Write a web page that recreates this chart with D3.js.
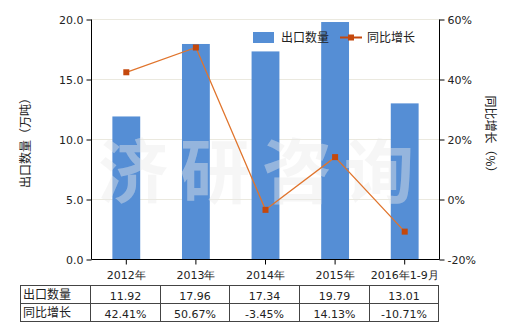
<!DOCTYPE html>
<html>
<head>
<meta charset="utf-8">
<script src="https://cdn.jsdelivr.net/npm/d3@7"></script>
<style>
  body { margin: 0; background: #fff; }
  text { font-family: "Noto Sans CJK SC", "DejaVu Sans", sans-serif; }
</style>
</head>
<body>
<svg id="chart" width="520" height="330"></svg>
<script>
const categories = ['2012年', '2013年', '2014年', '2015年', '2016年1-9月']
const exportQty = [11.92, 17.96, 17.34, 19.79, 13.01]
const growth = [42.41, 50.67, -3.45, 14.13, -10.71]
const leftTicks = [0, 5, 10, 15, 20]
const rightTicks = [-20, 0, 20, 40, 60]

const svg = d3.select('#chart')
const plotLeft = 91.5, plotRight = 439.5, plotTop = 19.5, plotBottom = 259.5

const x = d3.scaleBand().domain(categories).range([plotLeft, plotRight])
  .paddingInner(0.6).paddingOuter(0.3)
const y = d3.scaleLinear().domain([0, 20]).range([plotBottom, plotTop])
const y2 = d3.scaleLinear().domain([-20, 60]).range([plotBottom, plotTop])

// grid
svg.append('g')
  .selectAll('line')
  .data(leftTicks.slice(1))
  .enter()
  .append('line')
    .attr('x1', plotLeft).attr('x2', plotRight)
    .attr('y1', d => y(d)).attr('y2', d => y(d))
    .attr('stroke', '#ebe9df')

// bars
svg.append('g')
  .selectAll('rect')
  .data(exportQty)
  .enter()
  .append('rect')
    .attr('x', (d, i) => x(categories[i]))
    .attr('width', x.bandwidth())
    .attr('y', d => y(d))
    .attr('height', d => plotBottom - y(d))
    .attr('fill', '#558ed5')

// watermark
svg.append('text')
  .text('济研咨询')
  .attr('x', 262).attr('y', 198)
  .attr('text-anchor', 'middle')
  .attr('font-size', 70)
  .attr('font-weight', 'bold')
  .attr('letter-spacing', 12)
  .attr('fill', '#ffffff')
  .attr('opacity', 0.3)
svg.append('text')
  .text('济研咨询')
  .attr('x', 262).attr('y', 198)
  .attr('text-anchor', 'middle')
  .attr('font-size', 70)
  .attr('font-weight', 'bold')
  .attr('letter-spacing', 12)
  .attr('fill', '#d0d0d0')
  .attr('opacity', 0.18)

// axes
const axisLeft = d3.axisLeft(y).tickValues(leftTicks).tickFormat(d3.format('.1f')).tickSize(5)
const axisRight = d3.axisRight(y2).tickValues(rightTicks).tickFormat(d => d + '%').tickSize(5)
const axisBottom = d3.axisBottom(x).tickSize(5).tickSizeOuter(0)

const gl = svg.append('g').attr('transform', `translate(${plotLeft},0)`).call(axisLeft)
const gr = svg.append('g').attr('transform', `translate(${plotRight},0)`).call(axisRight)
const gb = svg.append('g').attr('transform', `translate(0,${plotBottom})`).call(axisBottom)
;[gl, gr, gb].forEach(g => {
  g.selectAll('path').attr('stroke', '#000')
  g.selectAll('line').attr('stroke', '#000')
  g.selectAll('text').attr('font-size', 11).attr('fill', '#222')
    .style('font-family', '"DejaVu Sans", sans-serif')
})
gl.select('.domain').attr('d', `M0,${plotTop}V${plotBottom}`)
gr.select('.domain').attr('d', `M0,${plotTop}V${plotBottom}`)
gb.select('.domain').attr('d', `M${plotLeft},0H${plotRight}`)
gb.selectAll('text').attr('dy', '1.05em')

// axis titles
svg.append('text')
  .text('出口数量（万吨）')
  .attr('transform', 'translate(30,140) rotate(-90)')
  .attr('text-anchor', 'middle')
  .attr('font-size', 12)
  .attr('fill', '#222')
svg.append('text')
  .text('同比增长（%）')
  .attr('transform', 'translate(486,137) rotate(90)')
  .attr('text-anchor', 'middle')
  .attr('font-size', 12)
  .attr('fill', '#222')

// line
const cx = (d, i) => x(categories[i]) + x.bandwidth() / 2
const line = d3.line().x(cx).y(d => y2(d))
svg.append('path')
  .datum(growth)
  .attr('d', line)
  .attr('fill', 'none')
  .attr('stroke', '#e0742c')
  .attr('stroke-width', 1.3)
svg.append('g')
  .selectAll('rect')
  .data(growth)
  .enter()
  .append('rect')
    .attr('x', (d, i) => cx(d, i) - 3)
    .attr('y', d => y2(d) - 3)
    .attr('width', 6).attr('height', 6)
    .attr('fill', '#c5480c')

// legend
svg.append('rect').attr('x', 253).attr('y', 32).attr('width', 21).attr('height', 11).attr('fill', '#558ed5')
svg.append('text').text('出口数量').attr('x', 281).attr('y', 42).attr('font-size', 12).attr('fill', '#222')
svg.append('line').attr('x1', 340).attr('x2', 362).attr('y1', 37.5).attr('y2', 37.5)
  .attr('stroke', '#c5480c').attr('stroke-width', 2)
svg.append('rect').attr('x', 348).attr('y', 34.5).attr('width', 6).attr('height', 6).attr('fill', '#c5480c')
svg.append('text').text('同比增长').attr('x', 367).attr('y', 42).attr('font-size', 12).attr('fill', '#222')

// table
const colX = [20.5, 90.5, 160.5, 229.5, 299.5, 369.5, 438.5]
const rowY = [285.5, 303.5, 321.5]
const rows = [
  { name: '出口数量', values: exportQty.map(d => d.toFixed(2)) },
  { name: '同比增长', values: growth.map(d => d.toFixed(2) + '%') }
]
const table = svg.append('g')
table.append('rect')
  .attr('x', colX[0]).attr('y', rowY[0])
  .attr('width', colX[6] - colX[0]).attr('height', rowY[2] - rowY[0])
  .attr('fill', 'none').attr('stroke', '#444')
table.selectAll('.v').data(colX.slice(1, 6)).enter().append('line')
  .attr('x1', d => d).attr('x2', d => d).attr('y1', rowY[0]).attr('y2', rowY[2]).attr('stroke', '#444')
table.append('line').attr('x1', colX[0]).attr('x2', colX[6]).attr('y1', rowY[1]).attr('y2', rowY[1]).attr('stroke', '#444')
rows.forEach((r, ri) => {
  table.append('text').text(r.name)
    .attr('x', 23).attr('y', rowY[ri] + 13).attr('font-size', 12).attr('fill', '#222')
  r.values.forEach((v, i) => {
    table.append('text').text(v)
      .attr('x', (colX[i + 1] + colX[i + 2]) / 2).attr('y', rowY[ri] + 14)
      .attr('text-anchor', 'middle').attr('font-size', 11).attr('fill', '#222')
      .style('font-family', '"DejaVu Sans", sans-serif')
  })
})
</script>
</body>
</html>
